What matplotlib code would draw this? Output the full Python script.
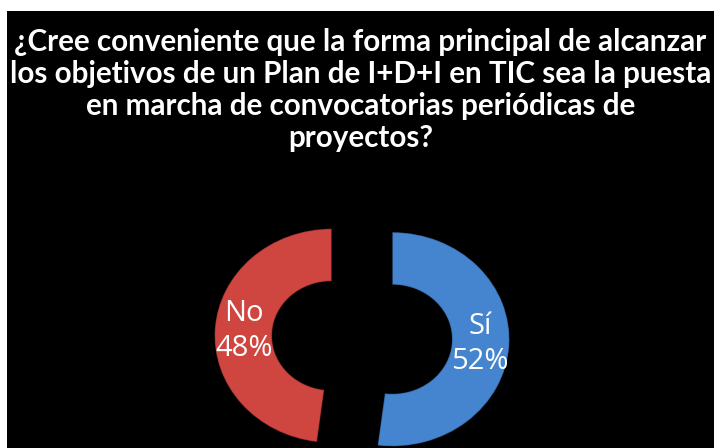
import matplotlib
matplotlib.use('Agg')
import matplotlib.pyplot as plt
from matplotlib.patches import Rectangle

# survey answers, clockwise from 12 o'clock
answers = ['Sí', 'No']
shares = [52, 48]
colors = ['#4585D0', '#CF4540']

title = ('¿Cree conveniente que la forma principal de alcanzar\n'
         'los objetivos de un Plan de I+D+I en TIC sea la puesta\n'
         'en marcha de convocatorias periódicas de\n'
         'proyectos?')

W, H = 714, 448
fig = plt.figure(figsize=(W / 100, H / 100), dpi=100)
fig.patch.set_facecolor('white')

# black slide area (thin white strip at top and left)
fig.add_artist(Rectangle((7 / W, 0), 1 - 7 / W, 1 - 11 / H,
                         transform=fig.transFigure, facecolor='black',
                         edgecolor='none', zorder=0))

fig.text(0.505, 1 - 28 / H, title, ha='center', va='top', color='white',
         fontsize=21.3, fontweight='bold', family='Lato', linespacing=1.17)

ax = fig.add_axes([0, 0, 1, 1])
ax.set_facecolor('none')

labels_iter = iter(answers)
def fmt(pct):
    return f'{next(labels_iter)}\n{pct:.0f}%'

wedges, texts = ax.pie(shares, colors=colors, startangle=90, counterclock=False,
                       explode=[0.26, 0.26], autopct=fmt, pctdistance=0.75,
                       wedgeprops=dict(width=0.49, edgecolor='#00000040', linewidth=1.0),
                       textprops=dict(color='white', fontsize=21, family='Open Sans',
                                      linespacing=1.27))[:2]

# the ring is drawn slightly flattened (perspective), so stretch x vs y
cx, cy = 362, 337.5
rx, ry = 117, 107
ax.set_aspect('auto')
ax.set_xlim(-cx / rx, (W - cx) / rx)
ax.set_ylim(-(H - cy) / ry, cy / ry)
ax.axis('off')

fig.savefig('out.png', dpi=100, facecolor=fig.get_facecolor())
